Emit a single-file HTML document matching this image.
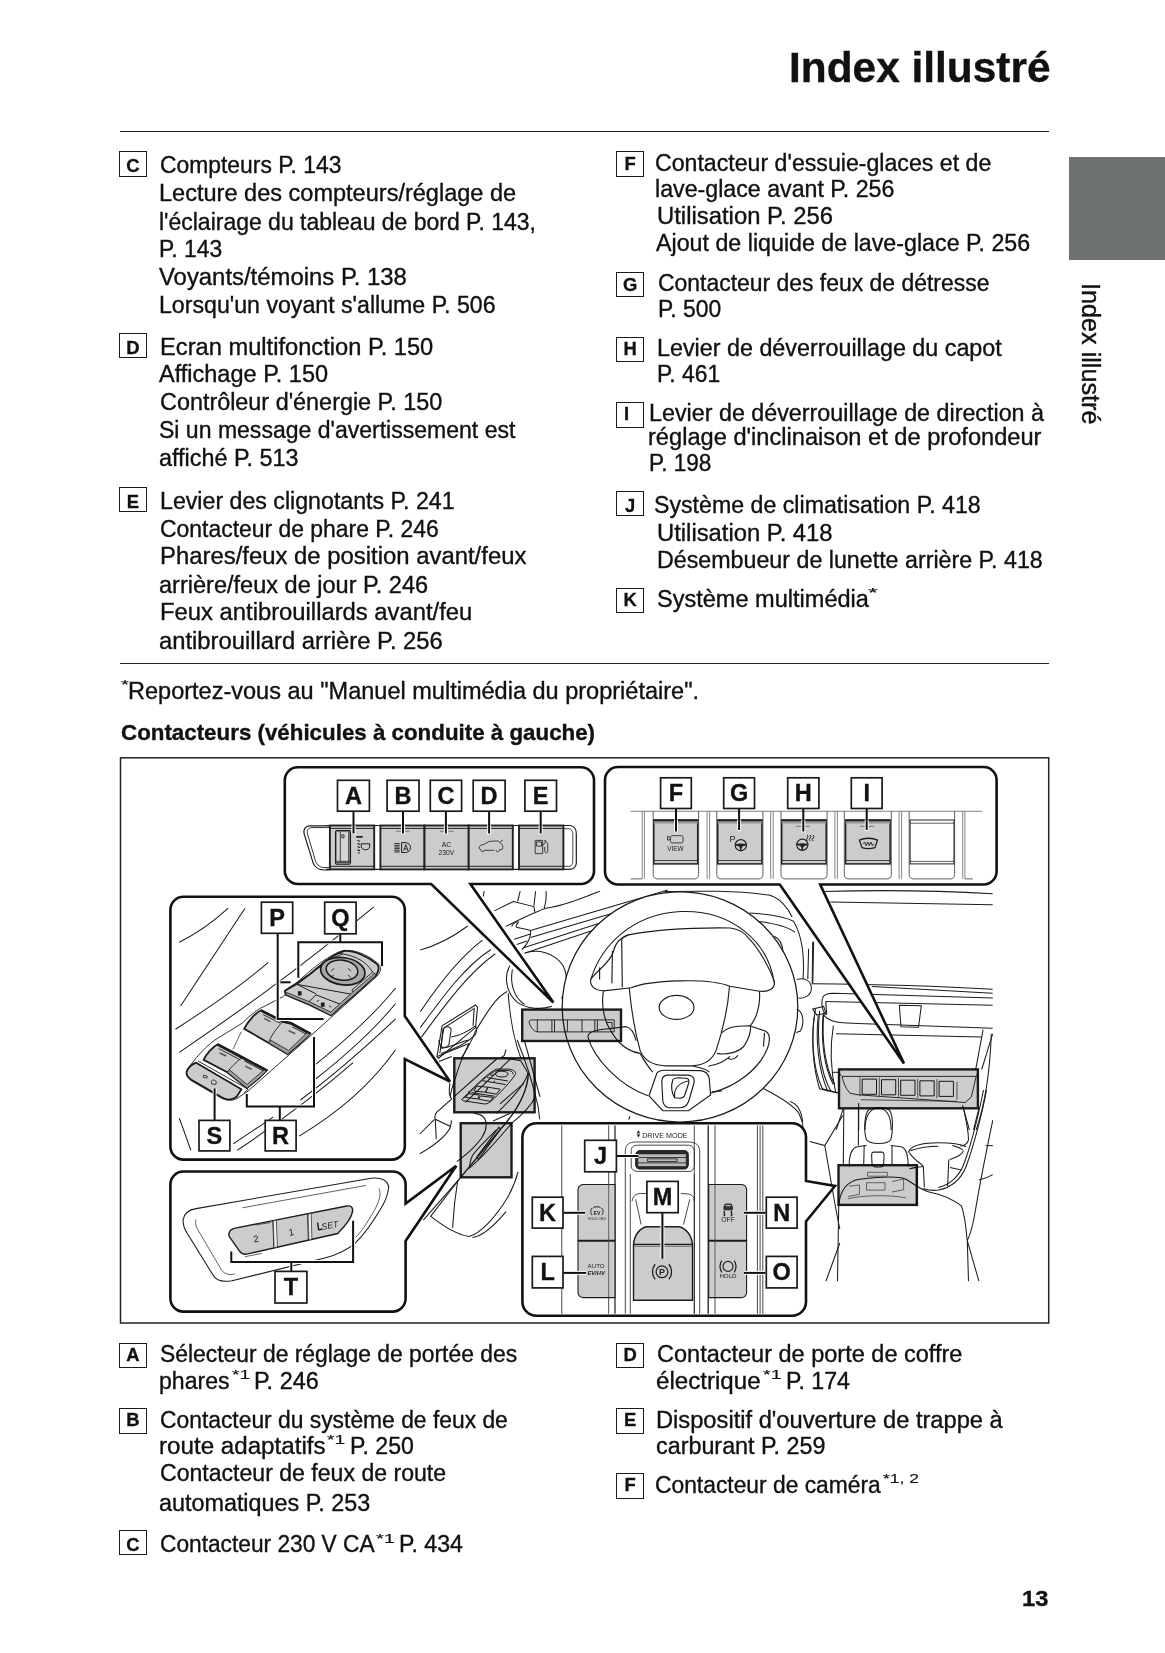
<!DOCTYPE html>
<html lang="fr"><head><meta charset="utf-8"><title>Index illustré</title>
<style>
html,body{margin:0;padding:0;background:#fff;overflow:hidden}
body{width:1165px;height:1653px;position:relative;overflow:hidden;font-family:"Liberation Sans",sans-serif;color:#111}
.t,.b{position:absolute;white-space:pre;transform-origin:0 0;line-height:normal;-webkit-text-stroke:0.35px #111}
.b{font-weight:700}
.s{-webkit-text-stroke:0.15px #111}
.bx{position:absolute;box-sizing:border-box;width:27.4px;height:25.3px;border:1.25px solid #1a1a1a;font-weight:700;font-size:18.4px;line-height:28.4px;-webkit-text-stroke:0.3px #111;text-align:center;background:#fff}
.rule{position:absolute;left:120px;width:928.5px;height:0;border-top:1.3px solid #222}
.tab{position:absolute;left:1068.8px;top:157.4px;width:96.2px;height:102.6px;background:#6e726f}
.side{position:absolute;left:1104.5px;top:282.8px;font-size:25.5px;white-space:pre;transform-origin:0 0;line-height:normal;-webkit-text-stroke:0.4px #111;transform:rotate(90deg) scaleX(0.9884)}
#dg{position:absolute;left:0;top:0}
#pg{position:absolute;left:0;top:0;width:1165px;height:1653px;overflow:hidden;will-change:transform}
</style></head><body>
<div id="pg">
<div class="rule" style="top:130.6px"></div>
<div class="rule" style="top:662.9px"></div>
<div class="tab"></div>
<div class="side" id="side">Index illustré</div>
<div class="b" style="left:788.9px;top:44.0px;font-size:42px;transform:scaleX(1.0093)">Index illustré</div>
<div class="t" style="left:160.2px;top:152.0px;font-size:23.0px;transform:scaleX(0.9944)">Compteurs P. 143</div>
<div class="t" style="left:159.4px;top:180.2px;font-size:23.0px;transform:scaleX(1.0233)">Lecture des compteurs/réglage de</div>
<div class="t" style="left:159.4px;top:208.8px;font-size:23.0px;transform:scaleX(0.9989)">l&#x27;éclairage du tableau de bord P. 143,</div>
<div class="t" style="left:159.4px;top:236.2px;font-size:23.0px;transform:scaleX(0.9945)">P. 143</div>
<div class="t" style="left:159.4px;top:264.4px;font-size:23.0px;transform:scaleX(1.0385)">Voyants/témoins P. 138</div>
<div class="t" style="left:159.4px;top:291.9px;font-size:23.0px;transform:scaleX(1.0065)">Lorsqu&#x27;un voyant s&#x27;allume P. 506</div>
<div class="t" style="left:160.2px;top:333.9px;font-size:23.0px;transform:scaleX(1.0293)">Ecran multifonction P. 150</div>
<div class="t" style="left:159.4px;top:361.4px;font-size:23.0px;transform:scaleX(1.0222)">Affichage P. 150</div>
<div class="t" style="left:159.8px;top:389.2px;font-size:23.0px;transform:scaleX(1.0165)">Contrôleur d&#x27;énergie P. 150</div>
<div class="t" style="left:159.4px;top:416.6px;font-size:23.0px;transform:scaleX(1.0012)">Si un message d&#x27;avertissement est</div>
<div class="t" style="left:159.4px;top:444.8px;font-size:23.0px;transform:scaleX(1.0168)">affiché P. 513</div>
<div class="t" style="left:160.2px;top:487.8px;font-size:23.0px;transform:scaleX(1.0075)">Levier des clignotants P. 241</div>
<div class="t" style="left:159.8px;top:516.0px;font-size:23.0px;transform:scaleX(0.9966)">Contacteur de phare P. 246</div>
<div class="t" style="left:159.8px;top:543.2px;font-size:23.0px;transform:scaleX(1.0382)">Phares/feux de position avant/feux</div>
<div class="t" style="left:159.4px;top:571.6px;font-size:23.0px;transform:scaleX(1.0233)">arrière/feux de jour P. 246</div>
<div class="t" style="left:159.8px;top:599.4px;font-size:23.0px;transform:scaleX(1.0350)">Feux antibrouillards avant/feu</div>
<div class="t" style="left:159.4px;top:628.0px;font-size:23.0px;transform:scaleX(1.0339)">antibrouillard arrière P. 256</div>
<div class="t" style="left:655.2px;top:150.1px;font-size:23.0px;transform:scaleX(1.0060)">Contacteur d&#x27;essuie-glaces et de</div>
<div class="t" style="left:654.5px;top:176.0px;font-size:23.0px;transform:scaleX(1.0083)">lave-glace avant P. 256</div>
<div class="t" style="left:656.8px;top:203.4px;font-size:23.0px;transform:scaleX(1.0375)">Utilisation P. 256</div>
<div class="t" style="left:655.9px;top:230.4px;font-size:23.0px;transform:scaleX(1.0102)">Ajout de liquide de lave-glace P. 256</div>
<div class="t" style="left:657.9px;top:269.8px;font-size:23.0px;transform:scaleX(0.9969)">Contacteur des feux de détresse</div>
<div class="t" style="left:657.9px;top:296.1px;font-size:23.0px;transform:scaleX(0.9945)">P. 500</div>
<div class="t" style="left:657.1px;top:334.5px;font-size:23.0px;transform:scaleX(1.0137)">Levier de déverrouillage du capot</div>
<div class="t" style="left:657.1px;top:361.2px;font-size:23.0px;transform:scaleX(0.9945)">P. 461</div>
<div class="t" style="left:648.6px;top:400.4px;font-size:23.0px;transform:scaleX(1.0129)">Levier de déverrouillage de direction à</div>
<div class="t" style="left:648.2px;top:423.6px;font-size:23.0px;transform:scaleX(1.0277)">réglage d&#x27;inclinaison et de profondeur</div>
<div class="t" style="left:648.6px;top:449.7px;font-size:23.0px;transform:scaleX(0.9820)">P. 198</div>
<div class="t" style="left:654.1px;top:491.7px;font-size:23.0px;transform:scaleX(1.0073)">Système de climatisation P. 418</div>
<div class="t" style="left:657.1px;top:519.5px;font-size:23.0px;transform:scaleX(1.0351)">Utilisation P. 418</div>
<div class="t" style="left:656.8px;top:546.9px;font-size:23.0px;transform:scaleX(1.0102)">Désembueur de lunette arrière P. 418</div>
<div class="t" style="left:656.8px;top:585.5px;font-size:23.0px;transform:scaleX(1.0232)">Système multimédia</div>
<div class="t" style="left:128.4px;top:677.5px;font-size:23.0px;transform:scaleX(1.0227)">Reportez-vous au &quot;Manuel multimédia du propriétaire&quot;.</div>
<div class="t" style="left:160.2px;top:1340.9px;font-size:23.0px;transform:scaleX(0.9938)">Sélecteur de réglage de portée des</div>
<div class="t" style="left:159.4px;top:1367.7px;font-size:23.0px;transform:scaleX(1.0037)">phares</div>
<div class="t" style="left:253.7px;top:1367.7px;font-size:23.0px;transform:scaleX(1.0197)">P. 246</div>
<div class="t" style="left:160.2px;top:1406.6px;font-size:23.0px;transform:scaleX(0.9928)">Contacteur du système de feux de</div>
<div class="t" style="left:159.4px;top:1432.8px;font-size:23.0px;transform:scaleX(1.0506)">route adaptatifs</div>
<div class="t" style="left:350.2px;top:1432.8px;font-size:23.0px;transform:scaleX(1.0071)">P. 250</div>
<div class="t" style="left:160.2px;top:1460.4px;font-size:23.0px;transform:scaleX(1.0033)">Contacteur de feux de route</div>
<div class="t" style="left:159.4px;top:1489.8px;font-size:23.0px;transform:scaleX(1.0152)">automatiques P. 253</div>
<div class="t" style="left:160.2px;top:1531.2px;font-size:23.0px;transform:scaleX(0.9873)">Contacteur 230 V CA</div>
<div class="t" style="left:399.4px;top:1531.2px;font-size:23.0px;transform:scaleX(1.0071)">P. 434</div>
<div class="t" style="left:656.8px;top:1340.9px;font-size:23.0px;transform:scaleX(1.0222)">Contacteur de porte de coffre</div>
<div class="t" style="left:656.0px;top:1367.7px;font-size:23.0px;transform:scaleX(1.0486)">électrique</div>
<div class="t" style="left:786.1px;top:1367.7px;font-size:23.0px;transform:scaleX(1.0071)">P. 174</div>
<div class="t" style="left:656.0px;top:1406.6px;font-size:23.0px;transform:scaleX(1.0296)">Dispositif d&#x27;ouverture de trappe à</div>
<div class="t" style="left:656.0px;top:1432.8px;font-size:23.0px;transform:scaleX(1.0143)">carburant P. 259</div>
<div class="t" style="left:655.2px;top:1471.6px;font-size:23.0px;transform:scaleX(0.9921)">Contacteur de caméra</div>
<div class="t s" style="left:868.0px;top:585.0px;font-size:13px;transform:scaleX(1.9230)">*</div>
<div class="t s" style="left:120.5px;top:677.2px;font-size:13px;transform:scaleX(1.5477)">*</div>
<div class="t s" style="left:231.7px;top:1367.1px;font-size:13px;transform:scaleX(1.4748)">*1</div>
<div class="t s" style="left:327.0px;top:1432.2px;font-size:13px;transform:scaleX(1.4829)">*1</div>
<div class="t s" style="left:376.4px;top:1530.6px;font-size:13px;transform:scaleX(1.5398)">*1</div>
<div class="t s" style="left:762.6px;top:1367.1px;font-size:13px;transform:scaleX(1.5073)">*1</div>
<div class="t s" style="left:883.0px;top:1471.0px;font-size:13px;transform:scaleX(1.3471)">*1, 2</div>
<div class="b" style="left:120.5px;top:720.1px;font-size:22px;transform:scaleX(1.0151)">Contacteurs (véhicules à conduite à gauche)</div>
<div class="b" style="left:1022.3px;top:1586.1px;font-size:22px;transform:scaleX(1.0778)">13</div>
<div class="bx" style="left:119.3px;top:151.3px;line-height:27.7px">C</div>
<div class="bx" style="left:119.3px;top:332.7px;line-height:28.7px">D</div>
<div class="bx" style="left:119.3px;top:486.7px;line-height:28.5px">E</div>
<div class="bx" style="left:616.4px;top:151.3px;line-height:23.9px">F</div>
<div class="bx" style="left:616.4px;top:271.8px;line-height:23.1px">G</div>
<div class="bx" style="left:616.4px;top:336.7px;line-height:21.9px">H</div>
<div class="bx" style="left:616.4px;top:402.3px;line-height:22.5px;padding-right:7px">I</div>
<div class="bx" style="left:616.4px;top:490.9px;line-height:27.9px">J</div>
<div class="bx" style="left:616.4px;top:587.8px;line-height:21.7px">K</div>
<div class="bx" style="left:119.3px;top:1343.1px;line-height:21.9px">A</div>
<div class="bx" style="left:119.3px;top:1408.4px;line-height:22.3px">B</div>
<div class="bx" style="left:119.3px;top:1530.1px;line-height:28.5px">C</div>
<div class="bx" style="left:616.4px;top:1343.1px;line-height:21.9px">D</div>
<div class="bx" style="left:616.4px;top:1408.4px;line-height:22.3px">E</div>
<div class="bx" style="left:616.4px;top:1473.4px;line-height:22.7px">F</div>
<svg id="dg" width="1165" height="1653" viewBox="0 0 1165 1653" font-family="Liberation Sans, sans-serif">
<rect x="120.5" y="757.8" width="928.2" height="565.2" fill="#fff" stroke="#222" stroke-width="1.5"/>
<clipPath id="cab"><rect x="405" y="886" width="588" height="395.5"/></clipPath>
<g clip-path="url(#cab)">
<path d="M 420.3,950.0 C 437.8,945.2 453.2,936.7 467.8,926.0" fill="none" stroke="#1c1c1c" stroke-width="1.05" />
<path d="M 420.3,1011.8 C 439.5,983.0 460.1,957.3 482.4,940.1" fill="none" stroke="#1c1c1c" stroke-width="1.05" />
<path d="M 420.3,1027.6 C 442.9,996.7 465.2,965.8 491.0,949.5" fill="none" stroke="#1c1c1c" stroke-width="1.05" />
<path d="M 421.5,1037.1 C 444.6,1005.3 468.7,972.7 495.3,953.8" fill="none" stroke="#1c1c1c" stroke-width="1.05" />
<path d="M 484.1,891.2 L 483.3,896.3" fill="none" stroke="#1c1c1c" stroke-width="1.05" />
<path d="M 520.2,891.2 L 517.6,901.5" fill="none" stroke="#1c1c1c" stroke-width="1.05" />
<path d="M 535.6,891.2 L 533.9,905.8" fill="none" stroke="#1c1c1c" stroke-width="1.05" />
<path d="M 545.9,891.2 C 546.8,897.2 545.9,902.3 544.2,908.3" fill="none" stroke="#1c1c1c" stroke-width="1.05" />
<path d="M 494.4,910.9 L 513.3,901.5 L 533.9,906.6 L 534.8,911.8" fill="none" stroke="#1c1c1c" stroke-width="1.05" />
<path d="M 505.6,926.4 C 520.2,919.5 537.3,910.9 545.9,908.3 C 563.1,905.8 580.3,898.9 600.0,891.2" fill="none" stroke="#1c1c1c" stroke-width="1.05" />
<path d="M 511.6,926.4 C 513.3,922.9 516.7,921.2 518.5,922.1 C 516.7,924.6 515.0,926.4 516.7,927.2 C 521.9,928.9 527.0,928.9 530.5,930.6 C 531.3,936.7 527.0,945.2 521.9,949.5" fill="none" stroke="#1c1c1c" stroke-width="1.05" />
<path d="M 530.5,930.6 L 667.8,890.0" fill="none" stroke="#1c1c1c" stroke-width="1.05" />
<path d="M 514.2,939.2 L 530.5,934.1" fill="none" stroke="#1c1c1c" stroke-width="1.05" />
<path d="M 530.5,937.5 L 657.5,899.9" fill="none" stroke="#1c1c1c" stroke-width="1.05" />
<path d="M 516.7,944.4 L 527.0,940.9" fill="none" stroke="#1c1c1c" stroke-width="1.05" />
<path d="M 523.6,947.8 L 640.3,910.0" fill="none" stroke="#1c1c1c" stroke-width="1.05" />
<path d="M 525.3,953.0 L 623.2,920.3" fill="none" stroke="#1c1c1c" stroke-width="1.05" />
<path d="M 524.5,953.0 C 537.3,948.7 554.5,952.1 563.1,965.8 C 568.2,976.1 567.4,989.9 561.4,998.5" fill="none" stroke="#1c1c1c" stroke-width="1.05" />
<path d="M 509.9,965.8 C 503.9,976.1 505.6,991.6 516.7,1001.9 C 527.0,1009.6 542.5,1009.6 551.9,1006.2" fill="none" stroke="#1c1c1c" stroke-width="1.05" />
<path d="M 512.4,969.3 C 509.9,983.0 513.3,996.7 524.5,1004.5" fill="none" stroke="#1c1c1c" stroke-width="1.05" />
<path d="M 507.3,991.6 C 496.1,996.7 485.8,1013.9 475.5,1031.1 C 472.1,1039.7 467.0,1050.0 460.9,1058.5" fill="none" stroke="#1c1c1c" stroke-width="1.05" />
<path d="M 508.2,993.3 C 509.9,1017.3 515.0,1043.1 521.0,1058.5" fill="none" stroke="#1c1c1c" stroke-width="1.05" />
<path d="M 436.9,1056.8 L 442.1,1025.9 L 475.5,1005.0 L 477.6,1007.4 L 475.5,1027.6 L 438.6,1058.2 Z" fill="none" stroke="#1c1c1c" stroke-width="1.05" />
<path d="M 439.8,1053.4 L 443.8,1028.0 L 474.2,1008.4 L 473.0,1025.9" fill="none" stroke="#1c1c1c" stroke-width="1.05" />
<path d="M 442.9,1029.4 C 445.5,1025.9 449.8,1025.9 451.2,1029.4 L 448.9,1044.8 C 446.4,1047.4 442.1,1049.1 440.9,1047.4 Z" fill="none" stroke="#1c1c1c" stroke-width="1.05" />
<path d="M 451.2,1037.1 C 460.1,1035.4 468.7,1031.1 475.5,1025.9 C 477.3,1029.4 476.4,1032.8 474.7,1035.4 C 467.0,1043.1 451.5,1050.0 441.2,1053.4" fill="none" stroke="#1c1c1c" stroke-width="1.05" />
<ellipse cx="680.0" cy="1006.9" rx="117.8" ry="115.1" fill="#fff" stroke="#1c1c1c" stroke-width="1.25"/>
<path d="M 590.8,979.4 C 601.2,945.9 631.4,914.3 680.9,911.6 C 733.0,909.7 768.8,943.2 774.3,983.0" fill="none" stroke="#1c1c1c" stroke-width="1.05" />
<path d="M 590.7,979.4 C 589.7,987.3 595.7,990.2 603.6,990.8 L 631.2,987.7 C 649.0,980.3 708.2,977.4 729.9,986.3 L 759.5,991.2 C 769.4,992.2 775.3,988.2 774.3,981.3 C 769.4,967.5 759.5,949.7 749.5,939.1" fill="none" stroke="#1c1c1c" stroke-width="1.15" />
<path d="M 590.7,979.4 C 597.6,969.5 609.5,963.6 613.4,951.7 C 615.0,943.8 619.4,937.9 628.6,934.9" fill="none" stroke="#1c1c1c" stroke-width="1.15" />
<path d="M 599.6,967.5 L 599.6,979.4" fill="none" stroke="#1c1c1c" stroke-width="1.15" />
<path d="M 612.4,950.7 L 611.9,983.3" fill="none" stroke="#1c1c1c" stroke-width="1.15" />
<path d="M 621.7,939.9 L 622.3,987.3" fill="none" stroke="#1c1c1c" stroke-width="1.15" />
<path d="M 621.7,939.9 C 623.3,935.9 626.3,935.5 628.6,934.9 C 658.8,929.0 698.3,927.6 730.3,928.0 C 739.8,929.0 745.7,933.9 749.5,939.1" fill="none" stroke="#1c1c1c" stroke-width="1.15" />
<path d="M 629.2,987.7 C 631.2,1009.0 635.2,1032.7 640.1,1050.4 C 644.0,1060.3 652.9,1065.2 664.8,1065.8 L 692.4,1065.8 C 704.3,1065.2 712.2,1060.3 716.1,1050.4 C 722.0,1032.7 727.9,1009.0 729.5,986.3" fill="none" stroke="#1c1c1c" stroke-width="1.15" />
<path d="M 603.6,990.8 C 601.6,999.1 602.6,1012.9 606.5,1022.8 C 609.5,1028.7 613.4,1036.6 619.4,1042.5 C 625.3,1048.5 633.2,1052.4 640.1,1053.4" fill="none" stroke="#1c1c1c" stroke-width="1.15" />
<path d="M 587.8,1036.6 C 588.8,1031.7 593.7,1030.3 599.6,1029.7 L 626.3,1026.7 C 631.2,1027.7 634.2,1032.7 636.1,1040.6" fill="none" stroke="#1c1c1c" stroke-width="1.15" />
<path d="M 587.8,1036.6 C 593.7,1058.3 619.4,1086.0 648.0,1095.8" fill="none" stroke="#1c1c1c" stroke-width="1.15" />
<path d="M 759.5,991.2 C 760.5,1005.0 756.6,1018.8 749.7,1026.3" fill="none" stroke="#1c1c1c" stroke-width="1.15" />
<path d="M 722.0,1032.7 C 726.0,1028.7 731.9,1026.7 737.8,1026.3 L 749.7,1025.8 L 764.5,1030.7 C 770.4,1032.7 770.4,1040.6 767.4,1048.5 C 759.5,1068.2 737.8,1086.0 711.2,1092.9" fill="none" stroke="#1c1c1c" stroke-width="1.15" />
<path d="M 764.5,1032.7 L 763.5,1046.5" fill="none" stroke="#1c1c1c" stroke-width="1.15" />
<path d="M 717.1,1053.4 C 726.0,1055.4 737.8,1052.4 743.7,1046.5 C 747.7,1040.6 750.7,1032.7 750.7,1026.7" fill="none" stroke="#1c1c1c" stroke-width="1.15" />
<path d="M 727.9,1058.3 C 731.9,1060.3 735.8,1058.3 737.8,1055.4" fill="none" stroke="#1c1c1c" stroke-width="1.15" />
<path d="M 649.0,1095.8 L 656.9,1073.1 C 658.8,1070.6 661.8,1070.2 664.8,1070.2 L 700.3,1070.6 C 706.2,1071.2 708.2,1074.1 709.2,1078.1 L 710.6,1094.9 L 688.5,1110.7 L 662.8,1110.7 Z" fill="none" stroke="#1c1c1c" stroke-width="1.15" />
<path d="M 640.1,1053.4 C 644.0,1060.3 649.0,1068.2 652.9,1072.2" fill="none" stroke="#1c1c1c" stroke-width="1.15" />
<path d="M 708.2,1066.2 C 720.0,1064.3 726.0,1060.3 729.9,1056.4" fill="none" stroke="#1c1c1c" stroke-width="1.15" />
<path d="M 692.4,1065.8 C 700.3,1068.2 706.2,1068.2 709.2,1072.2" fill="none" stroke="#1c1c1c" stroke-width="1.15" />
<path d="M 666.7,1075.1 L 688.5,1075.1 C 693.4,1075.7 694.8,1078.5 694.0,1083.0 L 688.5,1101.8 C 686.9,1105.7 684.5,1107.3 680.6,1107.7 L 668.7,1107.7 C 664.8,1106.7 663.2,1104.7 662.8,1100.8 L 661.8,1082.0 C 661.8,1077.7 663.2,1075.7 666.7,1075.1 Z" fill="none" stroke="#1c1c1c" stroke-width="1.15" />
<path d="M 672.7,1080.0 C 673.7,1078.1 675.6,1077.7 678.6,1077.7 L 687.5,1078.5 C 689.4,1079.3 689.1,1082.0 688.1,1085.0 L 684.5,1095.8 C 683.5,1097.8 681.5,1098.2 679.6,1098.2 L 674.6,1097.8 C 671.7,1093.9 670.7,1086.0 672.7,1080.0" fill="none" stroke="#1c1c1c" stroke-width="1.15" />
<path d="M 674.6,1097.8 C 673.7,1089.9 677.6,1083.0 688.5,1081.0" fill="none" stroke="#1c1c1c" stroke-width="1.15" />
<path d="M 712.2,1091.9 L 722.0,1090.9" fill="none" stroke="#1c1c1c" stroke-width="1.15" />
<ellipse cx="676.6" cy="1007.4" rx="17.4" ry="12.0" fill="none" stroke="#1c1c1c" stroke-width="1.15"/>
<path d="M 664.4,891.5 C 697.3,891.0 738.5,890.4 768.8,895.1 C 779.7,897.9 788.0,907.5 792.1,917.1" fill="none" stroke="#1c1c1c" stroke-width="1.05" />
<path d="M 749.5,913.0 C 768.8,914.3 785.2,917.1 793.5,921.2 C 801.7,934.9 804.5,956.9 803.1,978.9" fill="none" stroke="#1c1c1c" stroke-width="1.05" />
<path d="M 757.8,921.2 C 777.0,923.9 788.0,926.7 794.9,932.2" fill="none" stroke="#1c1c1c" stroke-width="1.05" />
<path d="M 774.3,936.3 C 779.7,939.1 782.5,944.5 783.0,951.4" fill="none" stroke="#1c1c1c" stroke-width="1.05" />
<path d="M 796.8,979.4 C 804.5,977.5 811.3,980.3 811.3,988.5 C 811.3,995.4 804.5,998.7 798.4,998.1" fill="none" stroke="#1c1c1c" stroke-width="1.05" />
<path d="M 808.6,948.7 L 807.8,978.9" fill="none" stroke="#1c1c1c" stroke-width="1.05" />
<path d="M 812.7,941.8 L 812.2,984.4" fill="none" stroke="#1c1c1c" stroke-width="1.05" />
<path d="M 796.8,1009.1 C 803.1,1011.8 805.0,1022.8 800.3,1031.1 L 796.2,1032.4" fill="none" stroke="#1c1c1c" stroke-width="1.05" />
<path d="M 812.7,1009.1 L 823.7,1006.4 L 825.9,1013.2 L 816.8,1015.1 Z" fill="none" stroke="#1c1c1c" stroke-width="1.05" />
<path d="M 814.1,1017.3 C 811.3,1039.3 812.7,1066.8 819.6,1088.8 L 837.4,1092.9" fill="none" stroke="#1c1c1c" stroke-width="1.05" />
<path d="M 818.2,1016.0 C 815.5,1039.3 818.2,1069.5 827.8,1091.5" fill="none" stroke="#1c1c1c" stroke-width="1.05" />
<path d="M 823.1,1014.6 C 820.9,1039.3 823.7,1066.8 833.3,1084.6" fill="none" stroke="#1c1c1c" stroke-width="1.05" />
<path d="M 763.8,1088.8 C 779.7,1097.0 793.5,1105.2 799.0,1113.5 C 801.7,1119.0 803.1,1124.5 803.6,1130.0" fill="none" stroke="#1c1c1c" stroke-width="1.05" />
<path d="M 630.0,1116.2 L 628.7,1119.5" fill="none" stroke="#1c1c1c" stroke-width="1.05" />
<path d="M 822.4,891.5 C 877.3,889.9 946.0,891.0 992.7,893.7" fill="none" stroke="#1c1c1c" stroke-width="1.05" />
<path d="M 830.6,902.0 L 992.7,904.7" fill="none" stroke="#1c1c1c" stroke-width="1.05" />
<path d="M 813.6,941.8 L 812.8,983.0" fill="none" stroke="#1c1c1c" stroke-width="1.05" />
<path d="M 812.8,983.8 C 877.3,984.4 946.0,986.6 992.7,989.3" fill="none" stroke="#1c1c1c" stroke-width="1.05" />
<path d="M 871.8,986.6 L 992.7,993.2" fill="none" stroke="#1c1c1c" stroke-width="1.05" />
<path d="M 822.4,998.7 C 823.2,994.3 827.9,993.2 833.4,993.2 L 992.7,998.1" fill="none" stroke="#1c1c1c" stroke-width="1.05" />
<path d="M 825.7,1001.4 L 992.7,1005.3" fill="none" stroke="#1c1c1c" stroke-width="1.05" />
<path d="M 822.4,998.7 C 821.3,1003.6 822.4,1010.5 825.7,1015.1" fill="none" stroke="#1c1c1c" stroke-width="1.05" />
<path d="M 825.7,1001.4 L 826.8,1014.6" fill="none" stroke="#1c1c1c" stroke-width="1.05" />
<path d="M 823.8,1015.1 C 830.6,1023.4 841.6,1022.8 858.1,1023.4 L 992.7,1028.3" fill="none" stroke="#1c1c1c" stroke-width="1.05" />
<path d="M 899.3,1005.3 L 921.3,1005.8 L 918.5,1027.2 L 901.0,1026.7 Z" fill="none" stroke="#1c1c1c" stroke-width="1.05" />
<path d="M 833.4,1025.6 C 830.1,1044.8 830.6,1069.5 835.6,1092.1" fill="none" stroke="#1c1c1c" stroke-width="1.05" />
<path d="M 836.1,1033.8 L 981.7,1037.1" fill="none" stroke="#1c1c1c" stroke-width="1.05" />
<path d="M 983.1,1029.7 L 975.7,1069.5" fill="none" stroke="#1c1c1c" stroke-width="1.05" />
<path d="M 992.7,1033.8 L 981.7,1069.5" fill="none" stroke="#1c1c1c" stroke-width="1.05" />
<path d="M 815.5,1009.1 C 810.9,1033.8 812.0,1066.8 822.4,1088.8 L 838.9,1092.9" fill="none" stroke="#1c1c1c" stroke-width="1.05" />
<path d="M 819.7,1010.7 C 816.4,1039.3 819.7,1072.3 831.2,1091.5" fill="none" stroke="#1c1c1c" stroke-width="1.05" />
<path d="M 823.8,1012.4 C 821.6,1039.3 824.6,1066.8 834.8,1084.6" fill="none" stroke="#1c1c1c" stroke-width="1.05" />
<path d="M 832.0,1072.3 L 838.9,1072.3" fill="none" stroke="#1c1c1c" stroke-width="1.05" />
<path d="M 843.0,1109.4 L 836.1,1130.0" fill="none" stroke="#1c1c1c" stroke-width="1.05" />
<path d="M 858.7,1103.0 L 858.7,1130.0" fill="none" stroke="#1c1c1c" stroke-width="1.05" />
<path d="M 865.0,1130.0 C 865.0,1116.2 869.1,1109.4 877.3,1108.0 C 888.3,1108.0 891.1,1119.0 891.1,1130.0" fill="none" stroke="#1c1c1c" stroke-width="1.05" />
<path d="M 962.5,1105.2 L 969.4,1130.0" fill="none" stroke="#1c1c1c" stroke-width="1.05" />
<path d="M 979.0,1108.0 L 973.5,1130.0" fill="none" stroke="#1c1c1c" stroke-width="1.05" />
<path d="M 991.3,1033.8 C 990.0,1072.3 984.5,1105.2 976.2,1130.0" fill="none" stroke="#1c1c1c" stroke-width="1.05" />
<path d="M 843.8,1109.0 L 843.3,1164.6" fill="none" stroke="#1c1c1c" stroke-width="1.05" />
<path d="M 858.4,1109.0 L 858.4,1145.6" fill="none" stroke="#1c1c1c" stroke-width="1.05" />
<path d="M 866.5,1139.8 C 863.7,1131.7 864.2,1117.8 867.6,1110.9 C 871.1,1106.7 887.3,1106.7 890.1,1110.9 C 893.4,1117.8 892.9,1131.7 890.8,1139.8 C 887.3,1144.7 870.0,1144.7 866.5,1139.8" fill="none" stroke="#1c1c1c" stroke-width="1.05" />
<path d="M 849.1,1166.5 C 849.1,1154.9 851.4,1147.9 857.2,1146.8 L 866.5,1145.6" fill="none" stroke="#1c1c1c" stroke-width="1.05" />
<path d="M 890.8,1145.6 L 901.2,1146.8 C 905.9,1147.9 908.2,1154.9 908.2,1166.5" fill="none" stroke="#1c1c1c" stroke-width="1.05" />
<path d="M 864.2,1145.6 L 863.7,1164.2" fill="none" stroke="#1c1c1c" stroke-width="1.05" />
<path d="M 892.0,1145.6 L 892.0,1164.2" fill="none" stroke="#1c1c1c" stroke-width="1.05" />
<path d="M 873.4,1152.1 L 882.2,1152.1 C 883.9,1152.6 884.1,1154.0 884.1,1155.4 L 883.6,1164.6 C 883.2,1166.5 881.8,1166.9 880.4,1166.9 L 874.8,1166.9 C 873.0,1166.5 872.3,1165.3 872.0,1163.7 L 871.6,1154.9 C 871.6,1153.0 872.3,1152.3 873.4,1152.1 Z" fill="none" stroke="#1c1c1c" stroke-width="1.05" />
<path d="M 908.2,1152.6 C 910.5,1145.6 919.8,1142.8 938.3,1142.8 C 952.2,1142.8 961.5,1144.5 966.1,1146.8" fill="none" stroke="#1c1c1c" stroke-width="1.05" />
<path d="M 909.4,1152.6 C 912.8,1159.5 919.8,1161.8 923.3,1166.5 L 924.4,1187.3" fill="none" stroke="#1c1c1c" stroke-width="1.05" />
<path d="M 949.9,1159.5 C 956.9,1157.2 962.7,1154.9 963.4,1150.7" fill="none" stroke="#1c1c1c" stroke-width="1.05" />
<path d="M 948.8,1159.5 L 947.6,1186.2" fill="none" stroke="#1c1c1c" stroke-width="1.05" />
<path d="M 910.5,1150.7 C 919.8,1147.5 929.1,1146.3 938.3,1146.3" fill="none" stroke="#1c1c1c" stroke-width="1.05" />
<path d="M 952.2,1145.6 C 956.9,1146.8 960.3,1147.9 962.7,1149.8" fill="none" stroke="#1c1c1c" stroke-width="1.05" />
<path d="M 909.4,1168.8 C 915.2,1167.6 919.8,1166.5 923.3,1166.5" fill="none" stroke="#1c1c1c" stroke-width="1.05" />
<path d="M 949.9,1167.6 L 961.5,1170.0" fill="none" stroke="#1c1c1c" stroke-width="1.05" />
<path d="M 986.5,1090.0 C 982.4,1113.2 973.1,1147.9 966.1,1166.5 C 961.5,1178.1 952.2,1187.3 938.3,1190.1 C 931.4,1191.0 926.7,1189.7 923.3,1188.5" fill="none" stroke="#1c1c1c" stroke-width="1.05" />
<path d="M 983.5,1090.0 C 978.9,1113.2 970.8,1145.6 963.4,1165.3 C 959.2,1175.8 949.9,1185.0 938.3,1187.6" fill="none" stroke="#1c1c1c" stroke-width="1.05" />
<path d="M 992.8,1120.1 C 987.0,1147.9 980.0,1182.7 975.4,1210.5 C 973.1,1224.4 970.8,1233.7 967.3,1240.6" fill="none" stroke="#1c1c1c" stroke-width="1.05" />
<path d="M 992.8,1145.6 L 985.8,1145.6" fill="none" stroke="#1c1c1c" stroke-width="1.05" />
<path d="M 992.8,1174.6 C 987.0,1178.1 982.4,1179.2 978.9,1179.9" fill="none" stroke="#1c1c1c" stroke-width="1.05" />
<path d="M 838.7,1205.9 C 839.8,1192.0 845.6,1181.5 859.5,1179.2 C 878.1,1176.9 898.9,1175.8 905.9,1179.2 C 912.8,1182.7 917.5,1188.5 929.1,1192.0 C 940.6,1194.3 952.2,1198.9 961.5,1205.9 C 966.1,1219.8 966.1,1233.7 967.3,1240.6 L 968.5,1281.2" fill="none" stroke="#1c1c1c" stroke-width="1.05" />
<path d="M 967.3,1240.6 L 978.9,1281.2" fill="none" stroke="#1c1c1c" stroke-width="1.05" />
<path d="M 838.7,1205.9 L 837.5,1281.2" fill="none" stroke="#1c1c1c" stroke-width="1.05" />
<path d="M 839.8,1243.0 L 825.9,1281.2" fill="none" stroke="#1c1c1c" stroke-width="1.05" />
<path d="M 809.7,1141.5 L 824.8,1145.6 L 842.8,1115.5" fill="none" stroke="#1c1c1c" stroke-width="1.05" />
<path d="M 824.8,1145.6 C 829.4,1171.1 834.0,1201.2 839.8,1229.1" fill="none" stroke="#1c1c1c" stroke-width="1.05" />
<path d="M 790.0,1101.6 C 797.0,1103.9 801.6,1110.9 802.7,1122.4" fill="none" stroke="#1c1c1c" stroke-width="1.05" />
<path d="M 963.8,1109.7 C 966.1,1120.1 968.5,1131.7 968.5,1139.8 C 967.3,1144.5 963.8,1145.6 960.3,1146.1" fill="none" stroke="#1c1c1c" stroke-width="1.05" />
<path d="M 438.8,1040.0 C 439.7,1046.9 441.4,1048.6 448.3,1046.9 C 456.9,1044.3 465.5,1040.0 469.0,1040.0" fill="none" stroke="#1c1c1c" stroke-width="1.05" />
<path d="M 437.1,1056.4 L 469.0,1043.4" fill="none" stroke="#1c1c1c" stroke-width="1.05" />
<path d="M 438.8,1061.6 L 451.7,1056.4" fill="none" stroke="#1c1c1c" stroke-width="1.05" />
<path d="M 469.0,1043.4 C 463.8,1053.8 458.6,1065.9 455.5,1077.9 C 451.7,1088.3 450.0,1093.4 450.3,1097.8" fill="none" stroke="#1c1c1c" stroke-width="1.05" />
<path d="M 453.8,1096.9 L 496.6,1059.0" fill="none" stroke="#1c1c1c" stroke-width="1.05" />
<path d="M 465.5,1102.4 L 510.3,1059.0 L 520.7,1060.7 L 527.9,1072.8 C 525.9,1083.1 513.8,1096.9 496.6,1113.3" fill="none" stroke="#1c1c1c" stroke-width="1.05" />
<path d="M 500.0,1103.8 L 524.1,1083.1" fill="none" stroke="#1c1c1c" stroke-width="1.05" />
<path d="M 506.0,1049.5 L 504.3,1055.5 L 501.7,1057.2 L 510.3,1059.0" fill="none" stroke="#1c1c1c" stroke-width="1.05" />
<path d="M 517.2,1040.0 C 524.1,1057.2 532.8,1083.1 537.9,1105.5 L 539.7,1119.3" fill="none" stroke="#1c1c1c" stroke-width="1.05" />
<path d="M 524.1,1040.0 C 529.3,1057.2 536.2,1083.1 540.0,1096.9" fill="none" stroke="#1c1c1c" stroke-width="1.05" />
<path d="M 450.0,1083.1 C 448.3,1091.7 450.0,1096.9 451.7,1099.0 L 436.6,1112.4 C 434.5,1115.5 434.5,1117.6 435.3,1119.3 L 450.0,1126.2 C 451.7,1123.1 451.7,1121.4 450.9,1120.2" fill="none" stroke="#1c1c1c" stroke-width="1.05" />
<path d="M 435.3,1119.3 L 436.2,1139.1" fill="none" stroke="#1c1c1c" stroke-width="1.05" />
<path d="M 419.8,1134.0 L 434.5,1119.3" fill="none" stroke="#1c1c1c" stroke-width="1.05" />
<path d="M 419.8,1153.8 C 434.5,1145.2 446.6,1136.6 450.9,1126.2" fill="none" stroke="#1c1c1c" stroke-width="1.05" />
<path d="M 474.1,1113.3 C 481.0,1114.1 486.2,1117.6 486.2,1124.5 C 486.2,1133.1 481.0,1140.0 472.4,1148.6 C 467.2,1153.8 460.3,1159.0 456.9,1161.6" fill="none" stroke="#1c1c1c" stroke-width="1.05" />
<path d="M 510.3,1113.3 L 493.1,1121.0" fill="none" stroke="#1c1c1c" stroke-width="1.05" />
<path d="M 535.3,1096.9 C 531.0,1105.5 520.7,1115.9 512.1,1122.8 C 503.4,1133.1 482.8,1157.2 469.0,1168.4" fill="none" stroke="#1c1c1c" stroke-width="1.05" />
<path d="M 499.1,1127.1 L 500.3,1129.7 L 478.4,1159.3 L 476.7,1157.2 Z" fill="none" stroke="#1c1c1c" stroke-width="1.05" />
<path d="M 496.6,1129.7 C 486.2,1140.0 475.9,1150.3 472.4,1155.5 C 469.8,1160.7 469.8,1165.9 469.0,1168.4" fill="none" stroke="#1c1c1c" stroke-width="1.05" />
<path d="M 460.3,1177.9 L 423.3,1220.2" fill="none" stroke="#1c1c1c" stroke-width="1.05" />
<path d="M 458.6,1180.0 L 431.0,1215.9" fill="none" stroke="#1c1c1c" stroke-width="1.05" />
<path d="M 457.8,1180.0 C 455.2,1195.2 453.4,1212.4 452.6,1227.9" fill="none" stroke="#1c1c1c" stroke-width="1.05" />
<path d="M 430.2,1215.9 C 443.1,1226.2 458.6,1234.8 469.0,1236.6 C 481.0,1233.1 496.6,1215.9 506.9,1198.6 C 512.1,1190.0 515.5,1181.4 518.1,1171.9" fill="none" stroke="#1c1c1c" stroke-width="1.05" />
<path d="M 472.4,1237.4 C 482.8,1236.6 496.6,1222.8 506.0,1211.6" fill="none" stroke="#1c1c1c" stroke-width="1.05" />
<path d="M 528.4,1072.8 C 527.6,1091.7 519.0,1109.0 500.0,1129.7 L 460.3,1177.9" fill="none" stroke="#1c1c1c" stroke-width="1.4" />
<path d="M 461.6,1099.6 C 465.5,1095.7 470.1,1091.1 473.2,1088.0 C 480.9,1080.3 490.2,1071.8 496.4,1069.1 L 508.7,1069.1 C 514.1,1069.8 516.4,1072.2 515.3,1074.5 C 511.8,1080.3 499.4,1094.2 490.2,1101.9 C 487.9,1103.8 485.5,1104.2 483.2,1103.8 L 463.1,1100.7 Z" fill="none" stroke="#1c1c1c" stroke-width="1.0" />
<path d="M 463.5,1098.4 C 467.8,1094.2 473.2,1089.2 476.3,1086.1 C 482.4,1079.9 490.9,1072.5 497.1,1070.4 L 507.9,1070.4 C 511.8,1071.0 513.5,1072.5 512.7,1074.2" fill="none" stroke="#1c1c1c" stroke-width="1.0" />
<path d="M 487.1,1077.6 L 507.9,1081.0" fill="none" stroke="#1c1c1c" stroke-width="1.0" />
<path d="M 482.4,1080.7 L 505.6,1084.5" fill="none" stroke="#1c1c1c" stroke-width="1.0" />
<path d="M 490.2,1074.9 L 493.3,1075.2" fill="none" stroke="#1c1c1c" stroke-width="1.0" />
<path d="M 473.9,1091.1 L 476.7,1086.1 L 487.9,1087.2 L 485.5,1092.2 Z" fill="none" stroke="#1c1c1c" stroke-width="1.0" />
<path d="M 485.5,1092.2 L 487.9,1087.2 L 500.2,1089.2 L 496.4,1094.2 Z" fill="none" stroke="#1c1c1c" stroke-width="1.0" />
<path d="M 471.6,1092.6 L 494.8,1096.3" fill="none" stroke="#1c1c1c" stroke-width="1.0" />
<path d="M 494.4,1080.7 L 494.0,1082.7" fill="none" stroke="#1c1c1c" stroke-width="1.0" />
<path d="M 465.5,1097.3 L 468.5,1093.6 L 479.4,1095.1 L 477.8,1099.0 Z" fill="none" stroke="#1c1c1c" stroke-width="1.0" />
<path d="M 478.6,1099.2 L 480.5,1095.9 L 493.3,1097.4 L 490.2,1101.3 Z" fill="none" stroke="#1c1c1c" stroke-width="1.0" />
<path d="M 468.5,1091.1 L 469.3,1092.6" fill="none" stroke="#1c1c1c" stroke-width="1.0" />
<ellipse cx="501.8" cy="1074.1" rx="6.3" ry="2.9" fill="none" stroke="#1c1c1c" stroke-width="1"/>
<path d="M 532.2,1019.9 L 614.2,1019.9 L 614.2,1031.9 L 537.3,1031.9 C 533.0,1031.1 529.6,1025.9 529.1,1021.6 C 529.1,1020.4 530.5,1019.9 532.2,1019.9 Z" fill="none" stroke="#1c1c1c" stroke-width="0.9" />
<path d="M 537.3,1019.9 L 537.3,1031.9 M 551.9,1019.9 L 551.9,1031.9 M 554.5,1019.9 L 554.5,1031.9 M 567.4,1019.9 L 567.4,1031.9 M 582.0,1019.9 L 582.0,1031.9 M 594.8,1019.9 L 594.8,1031.9 M 597.4,1019.9 L 597.4,1031.9 M 606.0,1022.5 L 612.0,1022.5 L 612.0,1029.4" fill="none" stroke="#1c1c1c" stroke-width="0.9" />
<path d="M 842.2,1076.4 L 976.2,1076.4 L 971.3,1097.0 L 965.2,1102.5 L 858.1,1094.8 L 849.9,1093.2 C 845.8,1088.8 843.0,1081.9 842.2,1076.4 Z" fill="none" stroke="#1c1c1c" stroke-width="0.9" />
<path d="M 842.2,1076.4 L 838.3,1072.3 M 976.2,1076.4 L 978.4,1072.3" fill="none" stroke="#1c1c1c" stroke-width="0.8" />
<path d="M 862.2,1079.1 L 876.5,1079.1 L 876.5,1094.3 L 862.2,1094.3 Z" fill="none" stroke="#1c1c1c" stroke-width="1.0" />
<path d="M 860.0,1076.9 L 860.0,1096.2" fill="none" stroke="#1c1c1c" stroke-width="0.7" />
<path d="M 881.5,1079.7 L 895.7,1079.7 L 895.7,1094.8 L 881.5,1094.8 Z" fill="none" stroke="#1c1c1c" stroke-width="1.0" />
<path d="M 879.3,1077.5 L 879.3,1096.7" fill="none" stroke="#1c1c1c" stroke-width="0.7" />
<path d="M 900.7,1080.2 L 915.0,1080.2 L 915.0,1095.3 L 900.7,1095.3 Z" fill="none" stroke="#1c1c1c" stroke-width="1.0" />
<path d="M 898.5,1078.0 L 898.5,1097.3" fill="none" stroke="#1c1c1c" stroke-width="0.7" />
<path d="M 919.9,1080.8 L 934.2,1080.8 L 934.2,1095.9 L 919.9,1095.9 Z" fill="none" stroke="#1c1c1c" stroke-width="1.0" />
<path d="M 917.7,1078.6 L 917.7,1097.8" fill="none" stroke="#1c1c1c" stroke-width="0.7" />
<path d="M 939.1,1081.3 L 953.4,1081.3 L 953.4,1096.4 L 939.1,1096.4 Z" fill="none" stroke="#1c1c1c" stroke-width="1.0" />
<path d="M 936.9,1079.1 L 936.9,1098.4" fill="none" stroke="#1c1c1c" stroke-width="0.7" />
<path d="M 957.0,1081.9 L 957.0,1099.7 M 860.9,1099.7 L 957.0,1101.4" fill="none" stroke="#1c1c1c" stroke-width="0.7" />
<path d="M 867.6,1172.3 L 887.3,1172.3 L 887.3,1176.2 L 867.6,1176.2 Z M 849.1,1186.2 L 859.5,1185.0 L 859.5,1194.3 L 847.9,1196.6 M 866.5,1182.7 L 885.0,1182.7 L 885.0,1190.1 L 866.5,1190.1 Z M 892.0,1181.5 L 903.6,1179.2 L 903.6,1189.7 L 892.0,1192.0 M 847.9,1198.9 C 859.5,1195.5 887.3,1194.3 905.9,1197.8" fill="none" stroke="#555" stroke-width="0.8" />
<path d="M 910.5,1168.8 C 912.8,1167.6 915.2,1167.6 916.3,1167.6 L 916.3,1205.4" fill="none" stroke="#1c1c1c" stroke-width="0.8" />
<g style="mix-blend-mode:multiply"><rect x="522.2" y="1009.6" width="98.8" height="31.4" fill="#cccccc" stroke="#1c1c1c" stroke-width="2.4"/><rect x="454.3" y="1058.3" width="80.3" height="54.0" fill="#cccccc" stroke="#1c1c1c" stroke-width="2.4"/><rect x="460.7" y="1123.2" width="50.8" height="54.1" fill="#cccccc" stroke="#1c1c1c" stroke-width="2.4"/><rect x="839.0" y="1069.4" width="138.9" height="38.9" fill="#cccccc" stroke="#1c1c1c" stroke-width="2.4"/><rect x="838.5" y="1165.2" width="78.4" height="39.7" fill="#cccccc" stroke="#1c1c1c" stroke-width="2.4"/></g>
</g>
<path d="M297.8,767.3 H581 A13,13 0 0 1 594,780.3 V871 A13,13 0 0 1 581,884 H470.4 L553.4,1002.6 L431.2,884 H297.8 A13,13 0 0 1 284.8,871 V780.3 A13,13 0 0 1 297.8,767.3 Z" fill="#fff" stroke="#111" stroke-width="2.6" stroke-linejoin="miter"/>
<path d="M 326.1,825.5 L 570.1,825.5 C 575.1,826.2 576.3,829.9 576.3,833.7 L 576.3,863.5 C 575.8,867.8 572.6,869.3 568.8,869.3 L 326.1,869.3" fill="none" stroke="#1c1c1c" stroke-width="1.2" />
<path d="M 329.4,825.8 L 309.6,825.8 C 304.8,826.4 303.0,830.0 304.2,834.2 L 313.2,863.1 C 315.0,867.9 319.2,869.7 324.0,870.0 L 329.4,870.0" fill="none" stroke="#1c1c1c" stroke-width="1.2" />
<path d="M 329.4,827.6 L 311.4,827.6 C 307.8,828.0 306.6,830.6 307.5,834.0 L 315.6,861.3 C 317.4,865.5 320.4,867.3 324.0,867.6 L 329.4,867.6" fill="none" stroke="#1c1c1c" stroke-width="0.9" />
<path d="M 563.4,828.7 L 568.8,828.7 C 571.8,829.2 572.8,831.2 572.8,834.4 L 572.8,862.3 C 572.3,865.3 570.8,866.3 568.3,866.3 L 563.4,866.3" fill="none" stroke="#1c1c1c" stroke-width="0.8" />
<rect x="329.9" y="825.5" width="44.3" height="43.9" fill="#cccccc" stroke="#222" stroke-width="1.9"/>
<path d="M329.9,866.3 H374.2 M329.9,828.4 H374.2" stroke="#222" stroke-width="1"/>
<rect x="380.4" y="825.5" width="44.1" height="43.9" fill="#cccccc" stroke="#222" stroke-width="1.9"/>
<path d="M380.4,866.3 H424.5 M380.4,828.4 H424.5" stroke="#222" stroke-width="1"/>
<rect x="424.5" y="825.5" width="44.2" height="43.9" fill="#cccccc" stroke="#222" stroke-width="1.9"/>
<path d="M424.5,866.3 H468.7 M424.5,828.4 H468.7" stroke="#222" stroke-width="1"/>
<rect x="468.7" y="825.5" width="44.1" height="43.9" fill="#cccccc" stroke="#222" stroke-width="1.9"/>
<path d="M468.7,866.3 H512.8 M468.7,828.4 H512.8" stroke="#222" stroke-width="1"/>
<rect x="519.0" y="825.5" width="44.4" height="43.9" fill="#cccccc" stroke="#222" stroke-width="1.9"/>
<path d="M519,866.3 H563.4 M519,828.4 H563.4" stroke="#222" stroke-width="1"/>
<path d="M 336.7,830.6 L 349.3,830.6 C 350.2,830.7 350.5,831.2 350.5,832.1 L 350.5,862.8 C 350.4,863.9 349.9,864.3 349.0,864.3 L 336.7,864.3 C 335.8,864.2 335.5,863.7 335.5,862.8 L 335.5,832.1 C 335.6,831.1 335.9,830.7 336.7,830.6 Z" fill="#d4d4d4" stroke="#1c1c1c" stroke-width="1.1" />
<path d="M 336.4,831.6 L 349.5,831.6 L 349.5,863.3 L 336.4,863.3 Z" fill="none" stroke="#555" stroke-width="0.6" />
<path d="M 340.3,831.6 L 340.3,861.3 M 348.7,831.6 L 348.7,861.3 M 336.4,861.3 L 349.5,861.3 M 336.4,862.4 L 349.5,862.4" fill="none" stroke="#1c1c1c" stroke-width="0.8" />
<path d="M 341.8,834.8 L 344.0,834.8 L 344.0,837.8 L 341.8,837.8 Z" fill="none" stroke="#1c1c1c" stroke-width="0.8" />
<path d="M 361.3,843.8 L 369.7,843.8 L 369.7,846.8 C 369.1,850.7 361.9,850.7 361.3,846.8 Z" fill="none" stroke="#1c1c1c" stroke-width="1.0" />
<path d="M 356.2,836.9 L 362.7,836.9" fill="none" stroke="#1c1c1c" stroke-width="1.7" />
<path d="M 357.4,840.5 L 360.1,841.2 M 357.4,843.6 L 360.1,844.3 M 357.4,846.7 L 360.1,847.4 M 357.4,849.9 L 360.1,850.6 M 358.2,853.2 L 359.6,852.5" fill="none" stroke="#1c1c1c" stroke-width="1.1" />
<path d="M 394.3,843.6 L 399.7,843.6 M 394.3,845.3 L 399.7,845.3 M 394.3,847.0 L 399.7,847.0 M 394.3,848.6 L 399.7,848.6 M 394.3,850.3 L 399.7,850.3 M 394.3,852.0 L 399.7,852.0" fill="none" stroke="#1c1c1c" stroke-width="0.9" />
<path d="M 401.6,842.6 L 405.8,842.6 C 412.0,843.2 412.0,851.9 405.8,852.5 L 401.6,852.5 Z" fill="none" stroke="#1c1c1c" stroke-width="1.0" />
<path d="M 403.6,850.8 L 405.8,844.6 L 407.9,850.8 M 404.3,848.9 L 407.2,848.9" fill="none" stroke="#1c1c1c" stroke-width="0.9" />
<path d="M 395.8,831.2 L 400.8,831.2 M 404.5,831.2 L 409.5,831.2 M 439.9,831.2 L 444.9,831.2 M 448.6,831.2 L 453.6,831.2" fill="none" stroke="#777" stroke-width="1.0" />
<text x="446.4" y="846.9" font-size="6.8" text-anchor="middle" fill="#222">AC</text>
<text x="446.4" y="854.8" font-size="6.8" text-anchor="middle" fill="#222">230V</text>
<path d="M 479.2,848.6 C 478.7,846.1 480.5,844.9 484.2,844.4 L 489.2,841.4 L 497.9,840.9 L 499.6,842.4 L 502.9,839.9 M 499.6,842.4 C 502.9,844.4 503.6,846.9 502.1,849.4 L 499.1,849.9 M 484.2,850.3 L 494.2,850.3 M 479.2,848.6 L 481.2,850.1" fill="none" stroke="#1c1c1c" stroke-width="0.8" />
<path d="M 481.2,850.1 C 481.2,852.3 484.2,852.3 484.2,850.1 M 496.1,850.1 C 496.1,852.3 499.1,852.3 499.1,850.1" fill="none" stroke="#1c1c1c" stroke-width="0.8" />
<path d="M 535.2,853.6 L 535.2,840.4 L 542.7,840.4 L 542.7,853.6 Z M 536.5,841.9 L 541.5,841.9 L 541.5,846.1 L 536.5,846.1 Z M 542.7,844.9 C 545.2,844.4 545.9,841.1 544.7,839.9 M 544.7,839.9 L 547.7,843.6 L 547.7,851.8 C 546.9,853.6 544.4,852.8 544.7,850.3 L 544.7,846.9" fill="none" stroke="#1c1c1c" stroke-width="0.8" />
<path d="M353.5,824.5 V834.3" stroke="#fff" stroke-width="4"/><path d="M353.5,811 V833.5" stroke="#111" stroke-width="2"/>
<rect x="337.5" y="780.3" width="31.9" height="30.9" fill="#fff" stroke="#1a1a1a" stroke-width="1.7"/><text x="353.5" y="804.0" font-size="23.5" font-weight="700" text-anchor="middle" fill="#111" stroke="#111" stroke-width="0.35">A</text>
<path d="M403.0,824.5 V834.3" stroke="#fff" stroke-width="4"/><path d="M403.0,811 V833.5" stroke="#111" stroke-width="2"/>
<rect x="387.1" y="780.3" width="31.9" height="30.9" fill="#fff" stroke="#1a1a1a" stroke-width="1.7"/><text x="403.0" y="804.0" font-size="23.5" font-weight="700" text-anchor="middle" fill="#111" stroke="#111" stroke-width="0.35">B</text>
<path d="M445.9,824.5 V834.3" stroke="#fff" stroke-width="4"/><path d="M445.9,811 V833.5" stroke="#111" stroke-width="2"/>
<rect x="430.3" y="780.3" width="31.3" height="30.9" fill="#fff" stroke="#1a1a1a" stroke-width="1.7"/><text x="445.9" y="804.0" font-size="23.5" font-weight="700" text-anchor="middle" fill="#111" stroke="#111" stroke-width="0.35">C</text>
<path d="M489.1,824.5 V834.3" stroke="#fff" stroke-width="4"/><path d="M489.1,811 V833.5" stroke="#111" stroke-width="2"/>
<rect x="473.2" y="780.3" width="31.9" height="30.9" fill="#fff" stroke="#1a1a1a" stroke-width="1.7"/><text x="489.1" y="804.0" font-size="23.5" font-weight="700" text-anchor="middle" fill="#111" stroke="#111" stroke-width="0.35">D</text>
<path d="M540.7,824.5 V834.3" stroke="#fff" stroke-width="4"/><path d="M540.7,811 V833.5" stroke="#111" stroke-width="2"/>
<rect x="524.9" y="780.3" width="31.6" height="30.9" fill="#fff" stroke="#1a1a1a" stroke-width="1.7"/><text x="540.7" y="804.0" font-size="23.5" font-weight="700" text-anchor="middle" fill="#111" stroke="#111" stroke-width="0.35">E</text>
<path d="M618,767 H983.6 A13,13 0 0 1 996.6,780 V871.5 A13,13 0 0 1 983.6,884.5 H820.2 L904,1063.5 L779.8,884.5 H618 A13,13 0 0 1 605,871.5 V780 A13,13 0 0 1 618,767 Z" fill="#fff" stroke="#111" stroke-width="2.6" stroke-linejoin="miter"/>
<path d="M 630.6,811.3 L 982.2,811.3" fill="none" stroke="#666" stroke-width="0.8" />
<path d="M 642.2,811.3 L 642.2,878.9" fill="none" stroke="#666" stroke-width="0.8" />
<path d="M 644.4,811.3 L 644.4,878.9" fill="none" stroke="#666" stroke-width="0.8" />
<path d="M 707.1,811.3 L 707.1,878.9" fill="none" stroke="#666" stroke-width="0.8" />
<path d="M 709.6,811.3 L 709.6,878.9" fill="none" stroke="#666" stroke-width="0.8" />
<path d="M 770.7,811.3 L 770.7,878.9" fill="none" stroke="#666" stroke-width="0.8" />
<path d="M 773.2,811.3 L 773.2,878.9" fill="none" stroke="#666" stroke-width="0.8" />
<path d="M 834.9,811.3 L 834.9,878.9" fill="none" stroke="#666" stroke-width="0.8" />
<path d="M 837.4,811.3 L 837.4,878.9" fill="none" stroke="#666" stroke-width="0.8" />
<path d="M 899.1,811.3 L 899.1,878.9" fill="none" stroke="#666" stroke-width="0.8" />
<path d="M 901.6,811.3 L 901.6,878.9" fill="none" stroke="#666" stroke-width="0.8" />
<path d="M 962.7,811.3 L 962.7,878.9" fill="none" stroke="#666" stroke-width="0.8" />
<path d="M 964.9,811.3 L 964.9,878.9" fill="none" stroke="#666" stroke-width="0.8" />
<path d="M 653.2,811.3 L 653.2,874.6 C 653.2,877.7 655.1,878.9 657.6,878.9 L 694.2,878.9 C 696.7,878.9 698.6,877.7 698.6,874.6 L 698.6,811.3" fill="none" stroke="#1c1c1c" stroke-width="0.7" />
<path d="M 716.8,811.3 L 716.8,874.6 C 716.8,877.7 718.7,878.9 721.2,878.9 L 758.5,878.9 C 761.0,878.9 762.9,877.7 762.9,874.6 L 762.9,811.3" fill="none" stroke="#1c1c1c" stroke-width="0.7" />
<path d="M 781.0,811.3 L 781.0,874.6 C 781.0,877.7 782.9,878.9 785.4,878.9 L 822.7,878.9 C 825.2,878.9 827.1,877.7 827.1,874.6 L 827.1,811.3" fill="none" stroke="#1c1c1c" stroke-width="0.7" />
<path d="M 844.3,811.3 L 844.3,874.6 C 844.3,877.7 846.2,878.9 848.7,878.9 L 886.9,878.9 C 889.4,878.9 891.3,877.7 891.3,874.6 L 891.3,811.3" fill="none" stroke="#1c1c1c" stroke-width="0.7" />
<path d="M 909.2,811.3 L 909.2,874.6 C 909.2,877.7 911.0,878.9 913.6,878.9 L 950.2,878.9 C 952.7,878.9 954.6,877.7 954.6,874.6 L 954.6,811.3" fill="none" stroke="#1c1c1c" stroke-width="0.7" />
<path d="M 630.6,878.9 L 642.2,878.9 M 964.9,878.9 L 972.8,878.9" fill="none" stroke="#1c1c1c" stroke-width="0.7" />
<rect x="653.8" y="820.0" width="43.9" height="43.9" fill="#cccccc" stroke="#222" stroke-width="1.5"/>
<rect x="653.8" y="821.0" width="43.9" height="2.6" fill="#9a9a9a"/>
<path d="M653.8,820.4 H697.7" stroke="#222" stroke-width="1.8"/>
<path d="M653.8,860.5 H697.7" stroke="#333" stroke-width="0.9"/>
<rect x="717.7" y="820.0" width="44.2" height="43.9" fill="#cccccc" stroke="#222" stroke-width="1.5"/>
<rect x="717.7" y="821.0" width="44.2" height="2.6" fill="#9a9a9a"/>
<path d="M717.7,820.4 H761.9" stroke="#222" stroke-width="1.8"/>
<path d="M717.7,860.5 H761.9" stroke="#333" stroke-width="0.9"/>
<rect x="781.7" y="820.0" width="44.5" height="43.9" fill="#cccccc" stroke="#222" stroke-width="1.5"/>
<rect x="781.7" y="821.0" width="44.5" height="2.6" fill="#9a9a9a"/>
<path d="M781.7,820.4 H826.1" stroke="#222" stroke-width="1.8"/>
<path d="M781.7,860.5 H826.1" stroke="#333" stroke-width="0.9"/>
<rect x="845.6" y="820.0" width="44.5" height="43.9" fill="#cccccc" stroke="#222" stroke-width="1.5"/>
<rect x="845.6" y="821.0" width="44.5" height="2.6" fill="#9a9a9a"/>
<path d="M845.6,820.4 H890.1" stroke="#222" stroke-width="1.8"/>
<path d="M845.6,860.5 H890.1" stroke="#333" stroke-width="0.9"/>
<rect x="910.1" y="820.0" width="43.9" height="43.9" fill="#fff" stroke="#222" stroke-width="1"/>
<path d="M 910.1,823.2 L 954.0,823.2 M 910.1,861.4 L 954.0,861.4" fill="none" stroke="#1c1c1c" stroke-width="0.7" />
<path d="M 672.0,835.7 L 681.4,835.7 C 682.6,835.7 683.0,836.6 683.0,837.6 L 683.0,841.3 C 683.0,842.3 682.3,842.9 681.4,842.9 L 672.0,842.9 C 670.7,842.9 670.4,842.0 670.4,841.0 L 670.4,837.6 C 670.4,836.3 671.1,835.7 672.0,835.7 Z M 670.4,837.6 L 667.6,836.3 L 667.6,840.1 L 670.4,839.5" fill="none" stroke="#1c1c1c" stroke-width="0.8" />
<text x="675.4" y="850.7" font-size="6.4" text-anchor="middle" fill="#222">VIEW</text>
<text x="732.5" y="842.3" font-size="9" text-anchor="middle" fill="#222">P</text>
<circle cx="740.8" cy="845.2" r="5.6" fill="none" stroke="#222" stroke-width="1.2"/><path d="M735.2,844.2 Q740.8,843.0 746.4,844.2 L745.6,845.8 Q740.8,845.6 741.7,850.8 H739.9 Q740.8,845.6 736.0,845.8 Z" fill="#222" stroke="none"/>
<circle cx="802.3" cy="844.8" r="5.6" fill="none" stroke="#222" stroke-width="1.2"/><path d="M796.7,843.8 Q802.3,842.6 807.9,843.8 L807.1,845.4 Q802.3,845.2 803.2,850.4 H801.4 Q802.3,845.2 797.5,845.4 Z" fill="#222" stroke="none"/>
<path d="M807.3,841 q-1.6,-1.5 0,-3 q1.6,-1.5 0,-3 M810.2,841 q-1.6,-1.5 0,-3 q1.6,-1.5 0,-3 M813.1,841 q-1.6,-1.5 0,-3 q1.6,-1.5 0,-3" fill="none" stroke="#222" stroke-width="1"/>
<path d="M 795.8,826.3 L 801.4,826.3 M 804.2,826.3 L 809.8,826.3 M 860.0,826.3 L 865.6,826.3 M 868.4,826.3 L 874.1,826.3" fill="none" stroke="#777" stroke-width="1.0" />
<path d="M 859.4,840.1 C 864.7,837.6 872.5,837.6 877.5,840.1 L 875.0,847.6 C 870.9,848.9 865.6,848.9 861.9,847.6 Z" fill="none" stroke="#1c1c1c" stroke-width="1.3" />
<path d="M 863.1,843.8 L 864.7,842.0 L 866.2,845.7 L 867.8,842.0 L 869.4,845.7 L 870.9,842.0 L 872.5,845.7 L 873.8,843.8" fill="none" stroke="#1c1c1c" stroke-width="0.9" />
<path d="M676.0,819.5 V832.4" stroke="#fff" stroke-width="4"/><path d="M676.0,808 V831.5" stroke="#111" stroke-width="2"/>
<rect x="660.6" y="777.8" width="30.7" height="30.7" fill="#fff" stroke="#1a1a1a" stroke-width="1.7"/><text x="676.0" y="801.4" font-size="23.5" font-weight="700" text-anchor="middle" fill="#111" stroke="#111" stroke-width="0.35">F</text>
<path d="M739.1,819.5 V830.9" stroke="#fff" stroke-width="4"/><path d="M739.1,808 V830" stroke="#111" stroke-width="2"/>
<rect x="723.7" y="777.8" width="30.8" height="30.7" fill="#fff" stroke="#1a1a1a" stroke-width="1.7"/><text x="739.1" y="801.4" font-size="23.5" font-weight="700" text-anchor="middle" fill="#111" stroke="#111" stroke-width="0.35">G</text>
<path d="M803.3,819.5 V832.4" stroke="#fff" stroke-width="4"/><path d="M803.3,808 V831.5" stroke="#111" stroke-width="2"/>
<rect x="787.7" y="777.8" width="31.2" height="30.7" fill="#fff" stroke="#1a1a1a" stroke-width="1.7"/><text x="803.3" y="801.4" font-size="23.5" font-weight="700" text-anchor="middle" fill="#111" stroke="#111" stroke-width="0.35">H</text>
<path d="M866.7,819.5 V830.9" stroke="#fff" stroke-width="4"/><path d="M866.7,808 V830" stroke="#111" stroke-width="2"/>
<rect x="851.3" y="777.8" width="30.8" height="30.7" fill="#fff" stroke="#1a1a1a" stroke-width="1.7"/><text x="866.7" y="801.4" font-size="23.5" font-weight="700" text-anchor="middle" fill="#111" stroke="#111" stroke-width="0.35">I</text>
<path d="M183.4,896.8 H391.8 A13,13 0 0 1 404.8,909.8 V1016 L450,1081.5 L404.8,1059 V1146.6 A13,13 0 0 1 391.8,1159.6 H183.4 A13,13 0 0 1 170.4,1146.6 V909.8 A13,13 0 0 1 183.4,896.8 Z" fill="#fff" stroke="#111" stroke-width="2.6" stroke-linejoin="miter"/>
<clipPath id="c3"><rect x="172" y="898.5" width="231" height="259.5" rx="11"/></clipPath>
<g clip-path="url(#c3)"><path d="M 179.3,942.2 C 196.1,933.9 211.5,923.6 228.2,908.2" fill="none" stroke="#1c1c1c" stroke-width="1.05" /><path d="M 180.6,1006.0 L 245.0,908.2" fill="none" stroke="#1c1c1c" stroke-width="1.05" /><path d="M 179.3,1052.4 C 224.4,1021.5 288.8,977.7 373.8,906.9" fill="none" stroke="#1c1c1c" stroke-width="1.05" /><path d="M 175.5,1029.2 C 211.5,1006.0 245.0,982.9 268.2,962.3" fill="none" stroke="#1c1c1c" stroke-width="1.05" /><path d="M 314.5,1065.3 C 353.1,1034.4 378.9,1008.6 395.6,988.0" fill="none" stroke="#1c1c1c" stroke-width="1.05" /><path d="M 311.9,1082.0 C 353.1,1049.8 378.9,1024.1 395.6,1003.5" fill="none" stroke="#1c1c1c" stroke-width="1.05" /><path d="M 300.4,1100.0 C 340.3,1070.4 373.8,1039.5 395.6,1018.9" fill="none" stroke="#1c1c1c" stroke-width="1.05" /><path d="M 179.3,1118.1 L 190.9,1150.3" fill="none" stroke="#1c1c1c" stroke-width="1.05" /><path d="M 233.4,1143.8 C 250.1,1132.2 263.0,1124.5 273.3,1116.8" fill="none" stroke="#1c1c1c" stroke-width="1.05" /><path d="M 237.3,1150.3 C 275.9,1124.5 314.5,1096.2 353.1,1062.7" fill="none" stroke="#1c1c1c" stroke-width="1.05" /><path d="M 299.1,1136.1 C 340.3,1111.6 373.8,1080.7 395.6,1049.8" fill="none" stroke="#1c1c1c" stroke-width="1.05" /><path d="M 186.6,1072.2 C 191.3,1060.9 210.2,1042.0 217.8,1038.2 L 242.3,1023.1 C 249.9,1015.5 259.3,1008.0 263.1,1007.0 L 282.9,996.7 L 297.1,982.5 C 312.2,968.3 331.1,953.2 344.3,950.4 C 357.5,949.4 370.7,957.0 379.2,964.5 C 381.7,968.3 380.5,972.1 377.3,975.9 L 331.1,1017.4 L 312.2,1034.4 L 248.0,1091.1 L 236.7,1098.6 C 231.0,1101.5 225.3,1100.5 220.6,1097.7 L 191.3,1080.7 C 187.6,1077.9 185.7,1075.0 186.6,1072.2 Z" fill="#fff" stroke="#1c1c1c" stroke-width="0.9" /><path d="M 284.8,991.0 C 293.3,985.3 308.4,975.9 312.2,972.1 C 323.5,962.7 334.8,953.2 344.3,951.0 C 353.7,950.4 367.0,956.1 376.4,963.6 C 380.2,966.4 379.2,970.2 376.4,974.9 L 354.7,994.8 L 342.4,1005.1 L 331.1,1015.5 L 310.3,1005.1 L 285.8,994.8 Z" fill="#cccccc" stroke="#1c1c1c" stroke-width="1.8" /><path d="M 297.1,984.4 L 354.7,994.8 M 297.1,984.4 L 312.2,973.0 M 308.4,1002.3 L 316.0,994.8 L 342.4,1005.1 M 285.8,994.8 L 284.8,991.0 L 297.1,984.4 L 316.0,993.8" fill="none" stroke="#1c1c1c" stroke-width="1.0" /><path d="M 312.2,973.0 C 323.5,963.6 334.8,956.1 342.4,954.2 M 354.7,994.8 L 351.8,990.0 L 372.6,972.1 L 376.4,974.9 M 336.7,953.2 C 350.0,954.2 365.1,958.9 372.6,972.1" fill="none" stroke="#1c1c1c" stroke-width="0.9" /><ellipse cx="342.8" cy="971.2" rx="22.3" ry="13.6" fill="#a8a8a8" stroke="#1a1a1a" stroke-width="1.7" transform="rotate(8 342.8 971.2)"/><ellipse cx="342.0" cy="970.2" rx="15.9" ry="10.0" fill="#c4c4c4" stroke="#1a1a1a" stroke-width="1.5" transform="rotate(8 342.0 970.2)"/><path d="M 285.8,994.8 L 310.3,1005.1 L 331.1,1015.5 L 342.4,1005.1 L 354.7,994.8 L 376.4,974.9 L 374.5,973.6 L 352.8,991.9 L 341.5,1002.3 L 330.7,1012.1 L 310.7,1002.3 L 286.7,992.5 Z" fill="#9c9c9c" stroke="#1c1c1c" stroke-width="0.8" /><path d="M 331.1,971.2 L 333.9,968.3 M 350.9,971.2 L 348.1,968.3 M 333.9,974.9 L 331.1,977.4 M 348.1,974.9 L 350.9,977.4" fill="none" stroke="#1c1c1c" stroke-width="0.9" /><path d="M 298.6,991.9 L 300.9,991.9 L 300.9,994.8 L 298.6,994.8 Z" fill="#222" stroke="#1c1c1c" stroke-width="1.4" /><path d="M 321.6,1003.3 L 323.9,1003.3 L 323.9,1006.1 L 321.6,1006.1 Z" fill="#222" stroke="#1c1c1c" stroke-width="1.4" /><path d="M 316.9,1001.4 L 318.8,1000.4 M 329.2,1006.1 L 331.1,1007.0" fill="none" stroke="#1c1c1c" stroke-width="1.0" /><path d="M 244.2,1028.8 C 248.0,1021.2 255.5,1012.7 261.2,1010.2 L 282.9,1021.2 L 291.4,1023.1 L 310.3,1033.5 L 300.9,1042.9 L 287.6,1054.2 L 268.8,1042.9 Z" fill="#cccccc" stroke="#1c1c1c" stroke-width="1.8" /><path d="M 282.9,1021.2 C 276.3,1028.8 270.6,1036.3 268.8,1042.9 M 263.1,1014.6 L 280.1,1023.1 M 292.4,1026.9 L 307.5,1034.8" fill="none" stroke="#1c1c1c" stroke-width="0.9" /><path d="M 264.0,1018.4 L 270.6,1021.6 M 288.6,1030.6 L 295.2,1033.7" fill="none" stroke="#555" stroke-width="1.6" /><path d="M 261.2,1010.6 L 282.9,1021.6 L 291.4,1023.5 L 310.3,1033.9" fill="none" stroke="#1c1c1c" stroke-width="2.6" /><path d="M 268.8,1042.9 L 287.6,1054.2 L 300.9,1042.9 L 310.3,1033.9 L 306.9,1032.9 L 288.6,1050.5 L 270.6,1040.1 Z" fill="#9c9c9c" stroke="#1c1c1c" stroke-width="0.8" /><path d="M 203.6,1059.9 C 206.4,1053.3 213.0,1046.7 217.8,1044.2 L 242.3,1057.1 L 266.9,1070.3 L 259.3,1077.9 L 247.0,1088.2 L 227.2,1072.2 Z" fill="#cccccc" stroke="#1c1c1c" stroke-width="1.8" /><path d="M 242.3,1057.1 C 235.7,1062.7 230.0,1068.4 227.2,1072.2 M 218.7,1048.6 L 240.4,1059.9 M 244.2,1060.9 L 264.0,1071.2" fill="none" stroke="#1c1c1c" stroke-width="0.9" /><path d="M 219.7,1052.9 L 226.3,1055.9 M 245.1,1066.1 L 251.8,1069.4" fill="none" stroke="#555" stroke-width="1.6" /><path d="M 217.8,1044.6 L 242.3,1057.5 L 266.9,1070.7" fill="none" stroke="#1c1c1c" stroke-width="2.6" /><path d="M 227.2,1072.2 L 247.0,1088.2 L 259.3,1077.9 L 266.9,1070.7 L 264.0,1069.9 L 247.0,1084.5 L 229.5,1069.9 Z" fill="#9c9c9c" stroke="#1c1c1c" stroke-width="0.8" /><path d="M 232.9,1049.5 L 241.4,1031.6" fill="none" stroke="#1c1c1c" stroke-width="0.7" /><path d="M 186.6,1072.2 C 187.6,1068.4 191.3,1064.6 196.1,1062.7 L 241.4,1089.2 L 236.7,1096.7 C 232.9,1099.6 227.2,1100.5 222.5,1097.7 L 191.3,1079.7 C 187.6,1076.9 186.0,1075.0 186.6,1072.2 Z" fill="#cccccc" stroke="#1c1c1c" stroke-width="1.8" /><path d="M 197.9,1060.9 L 248.0,1089.2 L 244.2,1093.0" fill="none" stroke="#1c1c1c" stroke-width="0.9" /><path d="M 203.6,1075.0 L 207.4,1076.3 L 206.8,1078.2 L 203.0,1077.1 Z M 211.2,1081.6 C 211.2,1079.4 215.9,1079.4 216.3,1082.0 L 215.9,1084.5 L 211.7,1083.9 Z" fill="none" stroke="#1c1c1c" stroke-width="0.8" /></g>
<path d="M277.7,933 V1018.9 H323.5" fill="none" stroke="#fff" stroke-width="4.0"/><path d="M277.7,933 V1018.9 H323.5" fill="none" stroke="#111" stroke-width="2.0"/>
<path d="M280.3,982.3 H290.6" fill="none" stroke="#fff" stroke-width="4.0"/><path d="M280.3,982.3 H290.6" fill="none" stroke="#111" stroke-width="2.0"/>
<path d="M340.3,934 V942.2 M298.3,977.7 V942.2 H382 V966.1" fill="none" stroke="#fff" stroke-width="4.0"/><path d="M340.3,934 V942.2 M298.3,977.7 V942.2 H382 V966.1" fill="none" stroke="#111" stroke-width="2.0"/>
<path d="M279.8,1120 V1106.5 M246.8,1094.1 V1106.5 H314 V1036.9" fill="none" stroke="#fff" stroke-width="4.0"/><path d="M279.8,1120 V1106.5 M246.8,1094.1 V1106.5 H314 V1036.9" fill="none" stroke="#111" stroke-width="2.0"/>
<path d="M214.6,1088.4 V1120" fill="none" stroke="#fff" stroke-width="4.0"/><path d="M214.6,1088.4 V1120" fill="none" stroke="#111" stroke-width="2.0"/>
<rect x="261.4" y="902.2" width="31.3" height="31.1" fill="#fff" stroke="#1a1a1a" stroke-width="1.7"/><text x="277.1" y="926.0" font-size="23.5" font-weight="700" text-anchor="middle" fill="#111" stroke="#111" stroke-width="0.35">P</text>
<rect x="324.7" y="902.2" width="31.4" height="31.6" fill="#fff" stroke="#1a1a1a" stroke-width="1.7"/><text x="340.4" y="926.2" font-size="23.5" font-weight="700" text-anchor="middle" fill="#111" stroke="#111" stroke-width="0.35">Q</text>
<rect x="199.0" y="1120.4" width="30.9" height="30.5" fill="#fff" stroke="#1a1a1a" stroke-width="1.7"/><text x="214.4" y="1143.9" font-size="23.5" font-weight="700" text-anchor="middle" fill="#111" stroke="#111" stroke-width="0.35">S</text>
<rect x="265.2" y="1120.4" width="30.9" height="30.5" fill="#fff" stroke="#1a1a1a" stroke-width="1.7"/><text x="280.6" y="1143.9" font-size="23.5" font-weight="700" text-anchor="middle" fill="#111" stroke="#111" stroke-width="0.35">R</text>
<path d="M183.4,1171.5 H392.6 A13,13 0 0 1 405.6,1184.5 V1203.6 L456.3,1165.7 L405.6,1241 V1298.6 A13,13 0 0 1 392.6,1311.6 H183.4 A13,13 0 0 1 170.4,1298.6 V1184.5 A13,13 0 0 1 183.4,1171.5 Z" fill="#fff" stroke="#111" stroke-width="2.6" stroke-linejoin="miter"/>
<path d="M 183.2,1219.4 C 184.5,1212.9 189.6,1209.6 196.1,1208.6 L 371.2,1178.2 C 381.5,1176.9 387.9,1180.8 388.7,1187.2 C 387.9,1196.2 384.1,1203.9 378.9,1211.7 C 371.2,1224.5 363.5,1234.8 355.7,1242.6 C 345.4,1251.6 335.1,1255.4 324.8,1258.0 L 232.1,1280.7 C 221.8,1282.5 215.4,1279.9 212.8,1274.8 L 185.8,1231.0 C 183.7,1227.1 182.7,1223.2 183.2,1219.4 Z" fill="none" stroke="#1c1c1c" stroke-width="1.1" />
<path d="M 196.1,1219.4 C 194.8,1223.2 196.1,1227.1 198.6,1231.0 L 220.5,1268.3 C 223.1,1273.5 228.2,1275.5 234.7,1274.0 M 242.4,1207.8 L 366.0,1185.4 M 378.9,1188.5 C 382.0,1193.6 378.9,1203.9 371.2,1215.5 C 366.0,1224.5 360.9,1232.3 355.7,1237.4" fill="none" stroke="#1c1c1c" stroke-width="0.7" />
<path d="M 229.0,1233.5 C 229.5,1230.2 232.1,1228.7 235.2,1228.1 L 346.7,1206.0 C 351.1,1205.5 353.1,1207.5 352.6,1211.1 C 351.9,1216.8 345.4,1225.8 337.7,1233.5 L 247.6,1253.9 C 243.7,1254.9 241.1,1253.4 239.3,1250.8 L 230.8,1238.7 C 229.0,1236.9 228.5,1235.4 229.0,1233.5 Z" fill="#cccccc" stroke="#1c1c1c" stroke-width="1.4" />
<path d="M 272.8,1220.9 L 273.8,1247.2 M 275.9,1220.4 L 276.9,1246.7 M 307.6,1214.2 L 308.3,1240.0 M 310.7,1213.7 L 311.4,1239.0" fill="none" stroke="#1c1c1c" stroke-width="0.9" />
<path d="M 273.3,1220.7 L 276.4,1220.2 L 277.4,1246.9 L 274.1,1247.7 Z M 308.1,1214.0 L 311.2,1213.5 L 311.9,1239.2 L 308.9,1240.0 Z" fill="#eee" stroke="#1c1c1c" stroke-width="0.6" />
<path d="M 245.0,1256.7 L 261.7,1253.4 M 255.3,1225.0 L 270.7,1222.5" fill="none" stroke="#1c1c1c" stroke-width="0.7" />
<text x="256.6" y="1242.0" font-size="9.5" text-anchor="middle" fill="#222" transform="rotate(-10 256.6 1242.0)">2</text>
<text x="291.9" y="1235.4" font-size="9.5" text-anchor="middle" fill="#222" transform="rotate(-10 291.9 1235.4)">1</text>
<text x="330.5" y="1228.4" font-size="8.8" text-anchor="middle" fill="#222" font-style="italic" transform="rotate(-10 330.5 1228.4)">SET</text>
<path d="M 317.6,1222.5 L 318.6,1229.7 L 322.2,1229.2" fill="none" stroke="#1c1c1c" stroke-width="1.4" />
<path d="M231.3,1251.6 V1261.9 H353.1 V1220.7 M291.3,1262 V1271" fill="none" stroke="#fff" stroke-width="4.0"/><path d="M231.3,1251.6 V1261.9 H353.1 V1220.7 M291.3,1262 V1271" fill="none" stroke="#111" stroke-width="2.0"/>
<rect x="275.0" y="1271.4" width="31.9" height="31.6" fill="#fff" stroke="#1a1a1a" stroke-width="1.7"/><text x="291.0" y="1295.4" font-size="23.5" font-weight="700" text-anchor="middle" fill="#111" stroke="#111" stroke-width="0.35">T</text>
<path d="M536.4,1123.3 H792 A14,14 0 0 1 806,1137.3 V1181 L835,1186 L806,1221.5 V1301.7 A14,14 0 0 1 792,1315.7 H536.4 A14,14 0 0 1 522.4,1301.7 V1137.3 A14,14 0 0 1 536.4,1123.3 Z" fill="#fff" stroke="#111" stroke-width="2.6" stroke-linejoin="miter"/>
<clipPath id="c5"><rect x="524" y="1125" width="280.5" height="189" rx="12"/></clipPath>
<g clip-path="url(#c5)"><path d="M 561.8,1125.4 L 561.8,1313.8" fill="none" stroke="#1c1c1c" stroke-width="0.8" /><path d="M 608.7,1125.4 L 608.7,1313.8" fill="none" stroke="#1c1c1c" stroke-width="0.8" /><path d="M 615.0,1125.4 L 615.0,1313.8" fill="none" stroke="#1c1c1c" stroke-width="1.2" /><path d="M 694.3,1125.4 L 694.3,1313.8" fill="none" stroke="#1c1c1c" stroke-width="0.8" /><path d="M 708.2,1125.4 L 708.2,1313.8" fill="none" stroke="#1c1c1c" stroke-width="1.3" /><path d="M 715.0,1125.4 L 715.0,1313.8" fill="none" stroke="#1c1c1c" stroke-width="0.8" /><path d="M 757.4,1125.4 L 757.4,1313.8" fill="none" stroke="#1c1c1c" stroke-width="0.8" /><path d="M 760.1,1125.4 L 760.1,1313.8" fill="none" stroke="#1c1c1c" stroke-width="0.8" /><path d="M 762.8,1125.4 L 762.8,1313.8" fill="none" stroke="#1c1c1c" stroke-width="0.8" /><path d="M 625.3,1313.8 L 625.3,1150.6 C 625.8,1144.3 629.4,1142.0 635.7,1142.0 L 689.8,1142.0 C 696.1,1142.5 699.2,1145.2 699.7,1150.6 L 699.7,1313.8" fill="none" stroke="#1c1c1c" stroke-width="0.8" /><path d="M 630.3,1313.8 L 630.3,1174.1 M 694.3,1313.8 L 694.3,1174.1" fill="none" stroke="#1c1c1c" stroke-width="0.8" /><path d="M 631.2,1150.6 C 631.2,1147.0 633.9,1145.2 637.5,1145.2 L 688.9,1145.2 C 692.5,1145.6 694.3,1147.9 694.3,1151.5 L 694.3,1166.9 C 693.8,1170.1 691.6,1171.4 688.9,1171.4 L 637.5,1171.4 C 633.0,1171.0 631.2,1168.7 631.2,1166.0 Z" fill="none" stroke="#1c1c1c" stroke-width="0.8" /><path d="M 639.3,1150.6 L 684.7,1150.6 C 687.3,1151.0 688.3,1152.4 688.3,1154.6 L 688.3,1165.1 C 688.0,1167.6 686.5,1169.0 684.4,1169.0 L 639.3,1169.0 C 637.2,1168.7 635.7,1167.2 635.7,1165.1 L 635.7,1154.6 C 635.9,1152.4 637.2,1151.0 639.3,1150.6 Z" fill="#2a2a2a" stroke="#1c1c1c" stroke-width="1.0" /><path d="M 637.9,1153.9 L 686.2,1153.9 L 686.2,1166.5 L 637.9,1166.5 Z" fill="#bbb" stroke="#1c1c1c" stroke-width="0.6" /><path d="M 637.9,1157.5 L 686.2,1157.5 M 637.9,1162.9 L 686.2,1162.9 M 647.4,1158.8 L 677.2,1158.8 L 677.2,1161.5 L 647.4,1161.5 Z" fill="none" stroke="#1c1c1c" stroke-width="0.8" /><path d="M 632.1,1201.1 C 633.0,1195.7 635.7,1193.9 640.2,1193.5 L 646.5,1193.5 M 680.8,1193.5 L 688.0,1193.9 C 692.5,1194.8 694.3,1197.5 694.3,1201.1 M 635.7,1199.3 L 641.1,1224.5 M 689.8,1199.3 L 683.5,1224.5" fill="none" stroke="#1c1c1c" stroke-width="0.8" /><path d="M 578.0,1189.4 C 578.4,1186.3 580.2,1184.9 583.1,1184.5 L 615.0,1184.5 L 615.0,1240.4 L 578.0,1240.4 Z" fill="#cccccc" stroke="#1c1c1c" stroke-width="1.1" /><path d="M 578.0,1241.1 L 615.0,1241.1 L 615.0,1297.6 L 583.1,1297.6 C 580.2,1297.2 578.4,1295.8 578.0,1292.7 Z" fill="#cccccc" stroke="#1c1c1c" stroke-width="1.1" /><path d="M 708.7,1184.5 L 741.7,1184.5 C 744.8,1184.9 746.2,1186.3 746.6,1189.4 L 746.6,1240.4 L 708.7,1240.4 Z" fill="#cccccc" stroke="#1c1c1c" stroke-width="1.1" /><path d="M 708.7,1241.1 L 746.6,1241.1 L 746.6,1292.7 C 746.2,1295.8 744.8,1297.2 741.7,1297.6 L 708.7,1297.6 Z" fill="#cccccc" stroke="#1c1c1c" stroke-width="1.1" /><path d="M 633.5,1244.4 L 633.5,1300.3 L 692.5,1300.3 L 692.5,1244.4 C 691.6,1235.4 686.2,1228.2 679.0,1226.7 L 646.5,1226.7 C 639.3,1228.2 634.3,1235.4 633.5,1244.4 Z" fill="#cccccc" stroke="#1c1c1c" stroke-width="1.4" /><path d="M 633.5,1244.4 L 692.5,1244.4" fill="none" stroke="#1c1c1c" stroke-width="1.3" /><path d="M 634.3,1246.2 L 691.8,1246.2" fill="none" stroke="#1c1c1c" stroke-width="0.6" /><path d="M 608.7,1184.5 L 608.7,1297.6 M 715.0,1184.5 L 715.0,1297.6" fill="none" stroke="#444" stroke-width="0.8" /><circle cx="662.0" cy="1271.8" r="5.9" fill="none" stroke="#222" stroke-width="1.3"/><text x="662.0" y="1275.0" font-size="9" font-weight="700" text-anchor="middle" fill="#222">P</text><path d="M 655.2,1264.2 C 651.6,1268.2 651.6,1275.4 655.2,1279.3 M 668.9,1264.2 C 672.5,1268.2 672.5,1275.4 668.9,1279.3" fill="none" stroke="#1c1c1c" stroke-width="1.3" /><circle cx="728.0" cy="1266.4" r="5" fill="none" stroke="#222" stroke-width="1.2"/><path d="M 721.9,1260.6 C 719.3,1263.8 719.3,1269.1 721.9,1272.3 M 734.1,1260.6 C 736.7,1263.8 736.7,1269.1 734.1,1272.3" fill="none" stroke="#1c1c1c" stroke-width="1.2" /><text x="728.0" y="1277.9" font-size="6.2" text-anchor="middle" fill="#222">HOLD</text><text x="728.0" y="1222.0" font-size="6.8" text-anchor="middle" fill="#222">OFF</text><path d="M 724.0,1206.5 L 725.3,1204.0 L 731.1,1204.0 L 732.3,1206.5 L 732.3,1209.8 L 724.0,1209.8 Z" fill="#333" stroke="#1c1c1c" stroke-width="0.9" /><path d="M 725.5,1204.7 L 730.9,1204.7 L 731.4,1206.5 L 724.9,1206.5 Z" fill="#ccc" stroke="#1c1c1c" stroke-width="0.5" /><path d="M 724.9,1211.0 C 722.2,1212.3 726.7,1214.1 723.7,1215.9 M 732.1,1211.0 C 729.4,1212.3 733.9,1214.1 730.9,1215.9" fill="none" stroke="#1c1c1c" stroke-width="1.3" /><text x="596.1" y="1267.5" font-size="6.2" text-anchor="middle" fill="#222">AUTO</text><text x="596.1" y="1274.7" font-size="5.8" text-anchor="middle" fill="#222" font-weight="700" font-style="italic">EV/HV</text><path d="M 592.1,1208.0 C 590.3,1209.2 590.3,1213.7 592.1,1215.2 M 601.8,1208.0 C 603.6,1209.2 603.6,1213.7 601.8,1215.2 M 593.3,1208.3 L 594.2,1206.9 L 599.7,1206.9 L 600.6,1208.3" fill="none" stroke="#1c1c1c" stroke-width="0.9" /><text x="597.0" y="1214.8" font-size="5.2" text-anchor="middle" fill="#222" font-weight="700">EV</text><text x="597.0" y="1220.2" font-size="3.4" text-anchor="middle" fill="#222">HOLD CHG</text><text x="664.9" y="1138.0" font-size="7.6" text-anchor="middle" fill="#222" textLength="45.5" lengthAdjust="spacingAndGlyphs">DRIVE MODE</text><path d="M 638.4,1130.5 L 637.0,1133.2 L 639.9,1133.2 Z M 638.4,1137.3 L 637.0,1134.6 L 639.9,1134.6 Z" fill="#222" stroke="#1c1c1c" stroke-width="0.3" /></g>
<path d="M616.8,1156 H638.4" fill="none" stroke="#fff" stroke-width="4.0"/><path d="M616.8,1156 H638.4" fill="none" stroke="#111" stroke-width="2.0"/>
<path d="M662.4,1212.8 V1258.8" fill="none" stroke="#fff" stroke-width="4.0"/><path d="M662.4,1212.8 V1258.8" fill="none" stroke="#111" stroke-width="2.0"/>
<path d="M563.2,1212.8 H585" fill="none" stroke="#fff" stroke-width="4.0"/><path d="M563.2,1212.8 H585" fill="none" stroke="#111" stroke-width="2.0"/>
<path d="M563.2,1272.9 H586" fill="none" stroke="#fff" stroke-width="4.0"/><path d="M563.2,1272.9 H586" fill="none" stroke="#111" stroke-width="2.0"/>
<path d="M743.9,1212.8 H765.5" fill="none" stroke="#fff" stroke-width="4.0"/><path d="M743.9,1212.8 H765.5" fill="none" stroke="#111" stroke-width="2.0"/>
<path d="M743.9,1272.9 H765.5" fill="none" stroke="#fff" stroke-width="4.0"/><path d="M743.9,1272.9 H765.5" fill="none" stroke="#111" stroke-width="2.0"/>
<rect x="584.7" y="1140.3" width="31.7" height="31.5" fill="#fff" stroke="#1a1a1a" stroke-width="1.7"/><text x="600.5" y="1164.3" font-size="23.5" font-weight="700" text-anchor="middle" fill="#111" stroke="#111" stroke-width="0.35">J</text>
<rect x="646.9" y="1181.4" width="31.3" height="31.3" fill="#fff" stroke="#1a1a1a" stroke-width="1.7"/><text x="662.5" y="1205.3" font-size="23.5" font-weight="700" text-anchor="middle" fill="#111" stroke="#111" stroke-width="0.35">M</text>
<rect x="532.3" y="1197.2" width="30.7" height="30.9" fill="#fff" stroke="#1a1a1a" stroke-width="1.7"/><text x="547.6" y="1220.9" font-size="23.5" font-weight="700" text-anchor="middle" fill="#111" stroke="#111" stroke-width="0.35">K</text>
<rect x="532.3" y="1256.4" width="30.7" height="31.5" fill="#fff" stroke="#1a1a1a" stroke-width="1.7"/><text x="547.6" y="1280.4" font-size="23.5" font-weight="700" text-anchor="middle" fill="#111" stroke="#111" stroke-width="0.35">L</text>
<rect x="766.3" y="1197.2" width="30.8" height="30.9" fill="#fff" stroke="#1a1a1a" stroke-width="1.7"/><text x="781.7" y="1220.9" font-size="23.5" font-weight="700" text-anchor="middle" fill="#111" stroke="#111" stroke-width="0.35">N</text>
<rect x="766.3" y="1256.4" width="30.8" height="31.5" fill="#fff" stroke="#1a1a1a" stroke-width="1.7"/><text x="781.7" y="1280.4" font-size="23.5" font-weight="700" text-anchor="middle" fill="#111" stroke="#111" stroke-width="0.35">O</text>
</svg>
</div>
</body></html>
